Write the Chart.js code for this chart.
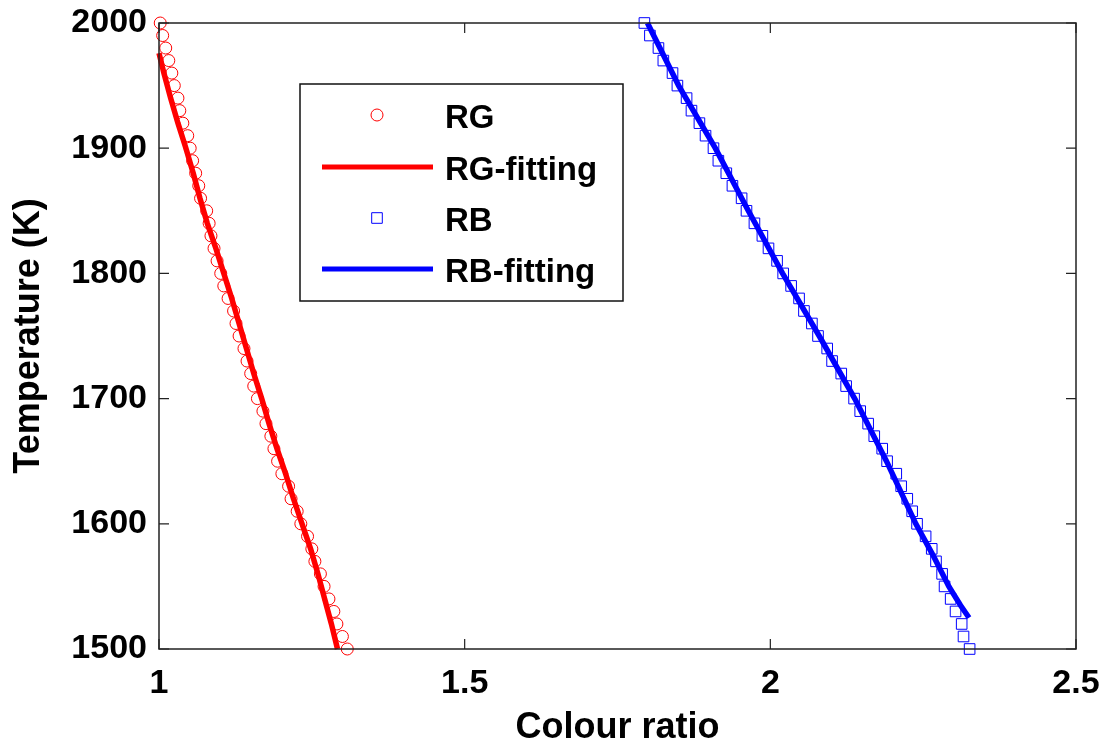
<!DOCTYPE html>
<html>
<head>
<meta charset="utf-8">
<script src="https://cdn.jsdelivr.net/npm/chart.js@4.4.1/dist/chart.umd.min.js"></script>
<style>
  html, body { margin: 0; padding: 0; background: #fff; }
  #wrap { width: 1108px; height: 751px; }
</style>
</head>
<body>
<div id="wrap"><canvas id="chart" width="1108" height="751"></canvas></div>
<script>
// temperature levels of the measured points (K)
const temps = [2000, 1990, 1980, 1970, 1960, 1950, 1940, 1930, 1920, 1910,
               1900, 1890, 1880, 1870, 1860, 1850, 1840, 1830, 1820, 1810,
               1800, 1790, 1780, 1770, 1760, 1750, 1740, 1730, 1720, 1710,
               1700, 1690, 1680, 1670, 1660, 1650, 1640, 1630, 1620, 1610,
               1600, 1590, 1580, 1570, 1560, 1550, 1540, 1530, 1520, 1510, 1500];

// colour ratio R/G for each temperature
const rgRatio = [1.002, 1.006, 1.011, 1.016, 1.021, 1.025, 1.031, 1.034, 1.039, 1.047,
                 1.051, 1.055, 1.060, 1.065, 1.068, 1.078, 1.082, 1.085, 1.090, 1.095,
                 1.101, 1.106, 1.113, 1.122, 1.126, 1.131, 1.139, 1.144, 1.150, 1.155,
                 1.161, 1.170, 1.175, 1.183, 1.188, 1.194, 1.201, 1.212, 1.216, 1.226,
                 1.232, 1.243, 1.250, 1.255, 1.264, 1.270, 1.278, 1.286, 1.291, 1.300, 1.308];

// colour ratio R/B for each temperature
const rbRatio = [1.794, 1.803, 1.817, 1.825, 1.840, 1.848, 1.863, 1.871, 1.884, 1.894,
                 1.907, 1.915, 1.928, 1.938, 1.953, 1.961, 1.974, 1.987, 1.997, 2.011,
                 2.021, 2.034, 2.047, 2.055, 2.068, 2.078, 2.093, 2.101, 2.116, 2.124,
                 2.137, 2.147, 2.160, 2.170, 2.183, 2.191, 2.206, 2.214, 2.224, 2.232,
                 2.240, 2.254, 2.264, 2.271, 2.281, 2.285, 2.295, 2.303, 2.313, 2.316, 2.326];

// fitted curves
const rgFitT = [1976, 1960, 1940, 1920, 1900, 1880, 1860, 1840, 1820, 1800, 1780, 1760, 1740,
                1720, 1700, 1680, 1660, 1640, 1620, 1600, 1580, 1560, 1540, 1520, 1500];
const rgFitX = [1.000, 1.008, 1.019, 1.031, 1.044, 1.056, 1.067, 1.079, 1.093, 1.106, 1.119, 1.131, 1.143,
                1.155, 1.168, 1.180, 1.193, 1.207, 1.220, 1.234, 1.248, 1.260, 1.271, 1.282, 1.292];
const rbFitT = [2000, 1950, 1900, 1850, 1800, 1750, 1700, 1650, 1600, 1575, 1550, 1535, 1525];
const rbFitX = [1.799, 1.850, 1.910, 1.964, 2.020, 2.080, 2.138, 2.190, 2.238, 2.266, 2.292, 2.311, 2.325];

const xTicks = [1, 1.5, 2, 2.5];
const xTickLabels = ['1', '1.5', '2', '2.5'];
const yTicks = [1500, 1600, 1700, 1800, 1900, 2000];
const yTickLabels = ['1500', '1600', '1700', '1800', '1900', '2000'];

const pts = (xs, ys) => xs.map((x, i) => ({ x: x, y: ys[i] }));

// MATLAB style box with inner ticks
const framePlugin = {
  id: 'frame',
  afterDatasetsDraw(chart) {
    const { ctx, chartArea: a, scales } = chart;
    ctx.save();
    ctx.strokeStyle = '#222';
    ctx.lineWidth = 1.5;
    ctx.strokeRect(a.left, a.top, a.right - a.left, a.bottom - a.top);
    ctx.lineWidth = 1.2;
    const len = 10;
    yTicks.forEach(v => {
      const y = scales.y.getPixelForValue(v);
      ctx.beginPath();
      ctx.moveTo(a.left, y); ctx.lineTo(a.left + len, y);
      ctx.moveTo(a.right, y); ctx.lineTo(a.right - len, y);
      ctx.stroke();
    });
    xTicks.forEach(v => {
      const x = scales.x.getPixelForValue(v);
      ctx.beginPath();
      ctx.moveTo(x, a.bottom); ctx.lineTo(x, a.bottom - len);
      ctx.moveTo(x, a.top); ctx.lineTo(x, a.top + len);
      ctx.stroke();
    });
    ctx.restore();
  }
};

// legend box drawn inside the plot
const legendPlugin = {
  id: 'boxLegend',
  afterDraw(chart) {
    const ctx = chart.ctx;
    const box = { x: 300, y: 84, w: 323, h: 217 };
    ctx.save();
    ctx.fillStyle = '#fff';
    ctx.fillRect(box.x, box.y, box.w, box.h);
    ctx.strokeStyle = '#111';
    ctx.lineWidth = 1.5;
    ctx.strokeRect(box.x, box.y, box.w, box.h);
    const rowY = [115, 167, 218, 269];
    chart.data.datasets.forEach((ds, i) => {
      const y = rowY[i];
      if (ds.showLine) {
        ctx.strokeStyle = ds.borderColor;
        ctx.lineWidth = 5;
        ctx.beginPath();
        ctx.moveTo(322, y); ctx.lineTo(433, y);
        ctx.stroke();
      } else {
        ctx.strokeStyle = ds.borderColor;
        ctx.fillStyle = 'rgba(0,0,0,0)';
        ctx.lineWidth = 1;
        Chart.helpers.drawPoint(ctx, {
          pointStyle: ds.pointStyle, radius: ds.pointRadius,
          borderWidth: 1
        }, 377, y);
      }
      ctx.fillStyle = '#000';
      ctx.font = 'bold 33px "Liberation Sans", Arial, sans-serif';
      ctx.textBaseline = 'middle';
      ctx.textAlign = 'left';
      ctx.fillText(ds.label, 445, y + 4);
    });
    ctx.restore();
  }
};

const font = { family: '"Liberation Sans", Arial, sans-serif', weight: 'bold' };

new Chart(document.getElementById('chart'), {
  type: 'scatter',
  data: {
    datasets: [
      {
        label: 'RG',
        data: pts(rgRatio, temps),
        showLine: false,
        pointStyle: 'circle',
        pointRadius: 6,
        borderColor: '#ff0000',
        backgroundColor: 'rgba(0,0,0,0)',
        borderWidth: 1,
        clip: false
      },
      {
        label: 'RG-fitting',
        data: pts(rgFitX, rgFitT),
        showLine: true,
        pointRadius: 0,
        borderColor: '#ff0000',
        borderWidth: 5.5,
        clip: false
      },
      {
        label: 'RB',
        data: pts(rbRatio, temps),
        showLine: false,
        pointStyle: 'rect',
        pointRadius: 7.5,
        borderColor: '#0000ff',
        backgroundColor: 'rgba(0,0,0,0)',
        borderWidth: 1,
        clip: false
      },
      {
        label: 'RB-fitting',
        data: pts(rbFitX, rbFitT),
        showLine: true,
        pointRadius: 0,
        borderColor: '#0000ff',
        borderWidth: 5.5,
        clip: false
      }
    ]
  },
  options: {
    responsive: false,
    animation: false,
    layout: { padding: { top: 23, right: 32, left: 0, bottom: 0 } },
    plugins: { legend: { display: false }, tooltip: { enabled: false } },
    scales: {
      x: {
        type: 'linear',
        min: 1, max: 2.5,
        afterBuildTicks: s => { s.ticks = xTicks.map(v => ({ value: v })); },
        afterFit: s => { s.height = 102; s.paddingLeft = 0; s.paddingRight = 0; },
        grid: { display: false, drawTicks: false },
        border: { display: false },
        ticks: {
          padding: 14,
          color: '#000',
          font: { ...font, size: 34 },
          callback: (v) => xTickLabels[xTicks.indexOf(v)]
        },
        title: {
          display: true,
          text: 'Colour ratio',
          color: '#000',
          font: { ...font, size: 36 },
          padding: { top: 0, bottom: 1 }
        }
      },
      y: {
        type: 'linear',
        min: 1500, max: 2000,
        afterBuildTicks: s => { s.ticks = yTicks.map(v => ({ value: v })); },
        afterFit: s => { s.width = 159; s.paddingTop = 0; s.paddingBottom = 0; },
        grid: { display: false, drawTicks: false },
        border: { display: false },
        ticks: {
          padding: 12,
          color: '#000',
          font: { ...font, size: 34 },
          callback: (v) => yTickLabels[yTicks.indexOf(v)]
        },
        title: {
          display: true,
          text: 'Temperature (K)',
          color: '#000',
          font: { ...font, size: 36 },
          padding: { top: 7, bottom: 7 }
        }
      }
    }
  },
  plugins: [framePlugin, legendPlugin]
});
</script>
</body>
</html>
